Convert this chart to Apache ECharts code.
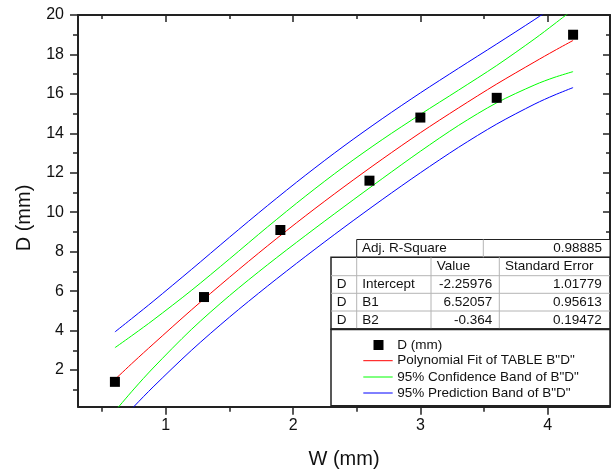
<!DOCTYPE html>
<html>
<head>
<meta charset="utf-8">
<script src="https://cdn.jsdelivr.net/npm/echarts@6/dist/echarts.min.js"></script>
<style>
  html, body { margin: 0; padding: 0; background: #fff; }
  #chart { width: 612px; height: 474px; }
</style>
</head>
<body>
<div id="chart"></div>
<script>
// Measured points: bead width W against depth D
const measW = [0.6, 1.3, 1.9, 2.6, 3.0, 3.6, 4.2];
const measD = [1.4, 5.7, 9.1, 11.6, 14.8, 15.8, 19.0];

// Second-order polynomial fit and its 95% bands, sampled along W
const bandW     = [0.6, 0.75, 0.9, 1.2, 1.5, 1.8, 2.1, 2.4, 2.7, 3.0, 3.3, 3.6, 3.9, 4.05, 4.2];
const fitD      = [1.52, 2.43, 3.31, 5.04, 6.70, 8.30, 9.83, 11.29, 12.69, 14.03, 15.29, 16.50, 17.63, 18.18, 18.71];
const confUpper = [3.13, 3.82, 4.53, 6.03, 7.63, 9.26, 10.83, 12.31, 13.68, 14.96, 16.19, 17.44, 18.80, 19.53, 20.28];
const confLower = [-0.09, 1.04, 2.10, 4.05, 5.77, 7.34, 8.83, 10.28, 11.70, 13.09, 14.40, 15.55, 16.46, 16.83, 17.13];
const predUpper = [3.93, 4.70, 5.48, 7.09, 8.73, 10.34, 11.89, 13.36, 14.74, 16.05, 17.30, 18.53, 19.78, 20.43, 21.09];
const predLower = [-0.89, 0.15, 1.14, 2.99, 4.68, 6.26, 7.77, 9.23, 10.64, 12.00, 13.29, 14.47, 15.49, 15.93, 16.32];

// Tick values
const xMajor = [1, 2, 3, 4];
const xMinor = [0.5, 1.5, 2.5, 3.5];
const yMajor = [2, 4, 6, 8, 10, 12, 14, 16, 18, 20];
const yMinor = [1, 3, 5, 7, 9, 11, 13, 15, 17, 19];

// Fit statistics table
const adjRSquare = '0.98885';
const tableHeader = ['Value', 'Standard Error'];
const paramDep = ['D', 'D', 'D'];
const paramNames = ['Intercept', 'B1', 'B2'];
const paramValues = ['-2.25976', '6.52057', '-0.364'];
const paramErrors = ['1.01779', '0.95613', '0.19472'];

// Legend entries
const legendNames = ['D (mm)', 'Polynomial Fit of TABLE B"D"', '95% Confidence Band of B"D"', '95% Prediction Band of B"D"'];

const FONT = '"Liberation Sans", Arial, sans-serif';
const INK = '#222';
const BOX_FONT = 13.5;

const pairs = (xs, ys) => xs.map((x, i) => [x, ys[i]]);

function makeAxis(dim, position, values, len, inside, withLine, withLabels) {
  const isX = dim === 'x';
  return {
    type: 'value',
    position: position,
    min: isX ? 0.31 : 0.14,
    max: isX ? 4.49 : 20,
    axisLine: { show: withLine, onZero: false, lineStyle: { color: INK, width: 2 } },
    axisTick: { show: true, inside: inside, length: len, customValues: values,
                lineStyle: { color: INK, width: 1.5 } },
    axisLabel: withLabels
      ? { show: true, customValues: values, fontFamily: FONT, fontSize: 16, color: '#111',
          margin: isX ? 11 : 14 }
      : { show: false },
    splitLine: { show: false },
    minorTick: { show: false },
    minorSplitLine: { show: false }
  };
}

function lineSeries(name, ys, color) {
  return {
    name: name, type: 'line', data: pairs(bandW, ys),
    xAxisIndex: 0, yAxisIndex: 0,
    smooth: 0.3, showSymbol: false, symbol: 'none', clip: true,
    lineStyle: { color: color, width: 1 }, silent: true, z: 2
  };
}

// Table geometry
const tL = 331, tR = 610;
const colX = [356.7, 431, 499.3];
const rowY = [239.5, 257.3, 275.7, 293.3, 311, 329.3];
const legBottom = 405.7;

const graphics = [];
const txt = (x, y, s, align, size) => ({
  type: 'text', x: x, y: y, z: 20,
  style: { text: s, fontFamily: FONT, fontSize: size || BOX_FONT, fill: '#111',
           textAlign: align || 'left', textVerticalAlign: 'middle' }
});
const seg = (x1, y1, x2, y2, color, w) => ({
  type: 'line', z: 19, shape: { x1: x1, y1: y1, x2: x2, y2: y2 },
  style: { stroke: color, lineWidth: w }
});

// Adj. R-Square row
graphics.push({ type: 'rect', z: 18, shape: { x: colX[0], y: rowY[0], width: tR - colX[0], height: rowY[1] - rowY[0] },
                style: { fill: '#fff', stroke: INK, lineWidth: 1 } });
graphics.push(seg(483.3, rowY[0], 483.3, rowY[1], '#b4b4b4', 1));
graphics.push(txt(362, (rowY[0] + rowY[1]) / 2, 'Adj. R-Square'));
graphics.push(txt(602, (rowY[0] + rowY[1]) / 2, adjRSquare, 'right'));

// Parameter table
graphics.push({ type: 'rect', z: 18, shape: { x: tL, y: rowY[1], width: tR - tL, height: rowY[5] - rowY[1] },
                style: { fill: '#fff', stroke: INK, lineWidth: 1.5 } });
colX.forEach(cx => graphics.push(seg(cx, rowY[1], cx, rowY[5], '#b4b4b4', 1)));
[rowY[2], rowY[3], rowY[4]].forEach(ry => graphics.push(seg(tL, ry, tR, ry, '#b4b4b4', 1)));
graphics.push(txt(436.7, (rowY[1] + rowY[2]) / 2, tableHeader[0]));
graphics.push(txt(505, (rowY[1] + rowY[2]) / 2, tableHeader[1]));
paramNames.forEach((n, i) => {
  const cy = (rowY[i + 2] + rowY[i + 3]) / 2;
  graphics.push(txt(336.7, cy, paramDep[i]));
  graphics.push(txt(362.3, cy, n));
  graphics.push(txt(492.3, cy, paramValues[i], 'right'));
  graphics.push(txt(601.7, cy, paramErrors[i], 'right'));
});

// Legend box
graphics.push({ type: 'rect', z: 18, shape: { x: tL, y: rowY[5], width: tR - tL, height: legBottom - rowY[5] },
                style: { fill: '#fff', stroke: INK, lineWidth: 1.5 } });
graphics.push(seg(tL, rowY[5], tR, rowY[5], INK, 2));
const legY = [345, 360.7, 377, 393];
const legColors = ['#000', '#ff0000', '#00ff00', '#0000ff'];
graphics.push({ type: 'rect', z: 20, shape: { x: 373.5, y: legY[0] - 5, width: 10, height: 10 },
                style: { fill: '#000' } });
for (let i = 1; i < 4; i++) graphics.push(seg(363.3, legY[i], 392.7, legY[i], legColors[i], 1));
legendNames.forEach((n, i) => graphics.push(txt(397.3, legY[i], n)));

// Axis titles
graphics.push({ type: 'text', x: 344, y: 459, z: 20,
  style: { text: 'W (mm)', fontFamily: FONT, fontSize: 20, fill: '#111', textAlign: 'center', textVerticalAlign: 'middle' } });
graphics.push({ type: 'text', x: 24, y: 218, rotation: Math.PI / 2, z: 20,
  style: { text: 'D (mm)', fontFamily: FONT, fontSize: 20, fill: '#111', textAlign: 'center', textVerticalAlign: 'middle' } });

const chart = echarts.init(document.getElementById('chart'), null, { renderer: 'canvas' });
chart.setOption({
  animation: false,
  backgroundColor: '#fff',
  grid: { left: 78, right: 2, top: 15, bottom: 67.3, containLabel: false },
  xAxis: [
    makeAxis('x', 'bottom', xMajor, 8, false, true, true),
    makeAxis('x', 'bottom', xMinor, 5, false, false, false),
    makeAxis('x', 'top', xMajor, 7, true, true, false),
    makeAxis('x', 'top', xMinor, 4, true, false, false)
  ],
  yAxis: [
    makeAxis('y', 'left', yMajor, 8, false, true, true),
    makeAxis('y', 'left', yMinor, 5, false, false, false),
    makeAxis('y', 'right', yMajor, 7, true, true, false),
    makeAxis('y', 'right', yMinor, 4, true, false, false)
  ],
  series: [
    lineSeries(legendNames[3], predUpper, '#0000ff'),
    lineSeries(legendNames[3], predLower, '#0000ff'),
    lineSeries(legendNames[2], confUpper, '#00ff00'),
    lineSeries(legendNames[2], confLower, '#00ff00'),
    lineSeries(legendNames[1], fitD, '#ff0000'),
    {
      name: legendNames[0], type: 'scatter', data: pairs(measW, measD),
      xAxisIndex: 0, yAxisIndex: 0,
      symbol: 'rect', symbolSize: 10, itemStyle: { color: '#000', opacity: 1 }, z: 3
    }
  ],
  graphic: { elements: graphics }
});
</script>
</body>
</html>
